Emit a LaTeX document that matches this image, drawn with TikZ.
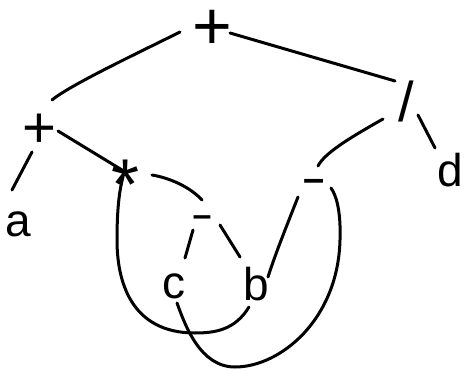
\documentclass[tikz,border=0pt]{standalone}
\usepackage{fontspec}
\setmainfont{Liberation Sans}
\usetikzlibrary{calc}
\begin{document}
\begin{tikzpicture}[x=1pt,y=-1pt,line width=3pt,line cap=round,
  sym/.style={inner sep=0pt,text height=0pt,text depth=0pt,anchor=center},
  plusbig/.style={sym,font=\fontsize{68}{68}\selectfont},
  plussmall/.style={sym,font=\fontsize{58}{58}\selectfont},
  slashop/.style={sym,font=\fontsize{56}{56}\selectfont},
  dashop/.style={sym,font=\bfseries\fontsize{34}{34}\selectfont},
  starop/.style={sym,font=\fontsize{72}{72}\selectfont},
  letter/.style={sym,font=\fontsize{46}{46}\selectfont}]
\useasboundingbox (0,0) rectangle (465,371);
% nodes (node centre = glyph centre)
\node[plusbig] (top)      at (212,25)  {\raisebox{-0.355em}{+}};
\node[plussmall] (lplus)  at (39,127)  {\raisebox{-0.355em}{+}};
\node[slashop] (slash)    at (406,102) {\raisebox{-0.355em}{/}};
\node[letter] (a)         at (18,225)  {\raisebox{-0.26em}{a}};
\node[starop] (star)      at (126,168) {\raisebox{-0.58em}{*}};
\node[dashop] (mminus)    at (202,217) {\raisebox{-0.27em}{–}};
\node[dashop,font=\bfseries\fontsize{38}{38}\selectfont] (rminus) at (314,181) {\raisebox{-0.27em}{–}};
\node[letter] (d)         at (450,170) {\raisebox{-0.365em}{d}};
\node[letter] (c)         at (174,287) {\raisebox{-0.26em}{c}};
\node[letter] (b)         at (256,284) {\raisebox{-0.365em}{b}};
% connectors
\draw ($(top)+(-32,7)$) .. controls (140,52) and (70,85) .. ($(lplus)+(13,-27)$);
\draw ($(top)+(18,8)$) -- ($(slash)+(-11,-21)$);
\draw ($(lplus)+(-7,25)$) -- ($(a)+(-6,-35)$);
\draw ($(lplus)+(19,4)$) -- ($(star)+(-4,2)$);
\draw ($(slash)+(-23,17)$) .. controls (355,135) and (325,152) .. ($(rminus)+(4,-15)$);
\draw ($(slash)+(12,13)$) -- ($(d)+(-15,-22)$);
\draw ($(star)+(26,7)$) .. controls (170,178) and (190,187) .. ($(mminus)+(0,-17)$);
\draw ($(mminus)+(-9,13)$) -- ($(c)+(11,-29)$);
\draw ($(mminus)+(18,8)$) -- ($(b)+(-16,-27)$);
\draw ($(rminus)+(-16,16)$) .. controls (285,230) and (275,255) .. ($(b)+(12,-7)$);
\draw ($(b)+(-7,23)$) .. controls (235,330) and (215,333) .. (195,333)
      .. controls (130,333) and (117,280) .. (117,240)
      .. controls (117,205) and (120,188) .. ($(star)+(-3,9)$);
\draw ($(c)+(3,16)$) .. controls (185,325) and (200,367) .. (235,367)
      .. controls (280,367) and (338,320) .. (340,240)
      .. controls (341,210) and (336,195) .. ($(rminus)+(17,7)$);
\end{tikzpicture}
\end{document}
